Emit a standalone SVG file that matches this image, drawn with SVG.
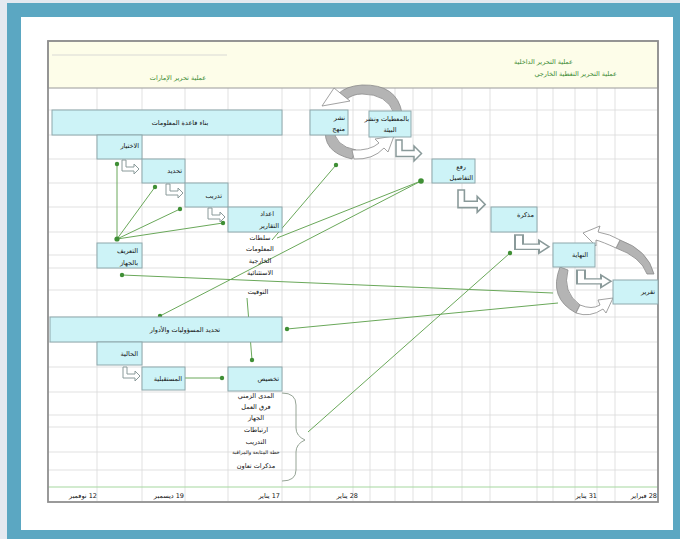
<svg xmlns="http://www.w3.org/2000/svg" xmlns:xlink="http://www.w3.org/1999/xlink" width="680" height="539" viewBox="0 0 680 539">
<style>
.box{fill:#cdf3f7;stroke:#8ea8ac;stroke-width:1}
.t{font-family:"DejaVu Sans",sans-serif;font-size:6.5px;fill:#111}
.h{font-family:"DejaVu Sans",sans-serif;font-size:6.5px;fill:#3a8a32}
.g{stroke:#6aa85a;stroke-width:1;fill:none}
.dot{fill:#3f8f35}
.bent{fill:#fff;stroke:#8a9a9a;stroke-width:1}
.grid{stroke:#d9d9d9;stroke-width:0.8}
.gray{fill:#b4b4b4;stroke:#8a8a8a;stroke-width:0.8}
.wa{fill:#fff;stroke:#8a8a8a;stroke-width:0.8}
</style>
<defs>
<path id="bend" d="M0,0 h4 v7 h8 v-3 l5,5 l-5,5 v-3 h-12 z"/>
</defs>
<rect x="0" y="0" width="680" height="539" fill="#e4e9f0"/>
<rect x="7" y="3" width="673" height="536" fill="#5ba7c2"/>
<rect x="21" y="17" width="652" height="513" fill="#fff"/>
<!-- grid -->
<g id="grid">
<rect x="48" y="41" width="610" height="461" fill="#fff"/>
<g class="grid">
<line x1="97" y1="88" x2="97" y2="501"/><line x1="142" y1="88" x2="142" y2="501"/>
<line x1="185" y1="88" x2="185" y2="501"/><line x1="228" y1="88" x2="228" y2="501"/>
<line x1="282" y1="88" x2="282" y2="501"/><line x1="310" y1="88" x2="310" y2="501"/>
<line x1="353" y1="88" x2="353" y2="501"/><line x1="370" y1="88" x2="370" y2="501"/>
<line x1="395" y1="88" x2="395" y2="501"/><line x1="413" y1="88" x2="413" y2="501"/>
<line x1="432" y1="88" x2="432" y2="501"/><line x1="462" y1="88" x2="462" y2="501"/>
<line x1="490" y1="88" x2="490" y2="501"/><line x1="537" y1="88" x2="537" y2="501"/>
<line x1="553" y1="88" x2="553" y2="501"/><line x1="575" y1="88" x2="575" y2="501"/>
<line x1="597" y1="88" x2="597" y2="501"/><line x1="615" y1="88" x2="615" y2="501"/>
<line x1="48" y1="110" x2="658" y2="110"/><line x1="48" y1="135" x2="658" y2="135"/>
<line x1="48" y1="159" x2="658" y2="159"/><line x1="48" y1="183" x2="658" y2="183"/>
<line x1="48" y1="207" x2="658" y2="207"/><line x1="48" y1="232" x2="658" y2="232"/>
<line x1="48" y1="255" x2="658" y2="255"/><line x1="48" y1="268" x2="658" y2="268"/>
<line x1="48" y1="290" x2="658" y2="290"/><line x1="48" y1="317" x2="658" y2="317"/>
<line x1="48" y1="342" x2="658" y2="342"/><line x1="48" y1="367" x2="658" y2="367"/>
<line x1="48" y1="392" x2="658" y2="392"/><line x1="48" y1="415" x2="658" y2="415"/>
<line x1="48" y1="427" x2="658" y2="427"/><line x1="48" y1="452" x2="658" y2="452"/>
<line x1="48" y1="470" x2="658" y2="470"/>
</g>
<line x1="48" y1="487" x2="658" y2="487" stroke="#a6d8a0" stroke-width="1.2"/>
<rect x="48" y="41" width="610" height="47" fill="#fdfde9" stroke="#9a9a9a" stroke-width="1"/>
<line x1="52" y1="55" x2="227" y2="55" stroke="#cfcfcf" stroke-width="0.8"/>
<rect x="48" y="41" width="610" height="461" fill="none" stroke="#8f8f8f" stroke-width="1.8"/>
</g>
<!-- header texts -->
<g id="header">
<text class="h" x="178" y="80" text-anchor="middle">عملية تحرير الإمارات</text>
<text class="h" x="573" y="64" text-anchor="end">عملية التحرير  الداخلية</text>
<text class="h" x="617" y="76" text-anchor="end">عملية التحرير  التغطية الخارجي</text>
</g>
<!-- timeline labels -->
<g id="timeline">
<text class="t" x="97" y="498" text-anchor="end">&#x200F;12 نوفمبر</text>
<text class="t" x="184" y="498" text-anchor="end">&#x200F;19 ديسمبر</text>
<text class="t" x="280" y="498" text-anchor="end">&#x200F;17 يناير</text>
<text class="t" x="358" y="498" text-anchor="end">&#x200F;28 يناير</text>
<text class="t" x="597" y="498" text-anchor="end">&#x200F;31 يناير</text>
<text class="t" x="657" y="498" text-anchor="end">&#x200F;28 فبراير</text>
</g>
<!-- cycle arrows -->
<g id="cycle-top">
<path class="gray" d="M402,113 Q397,84 362,85 Q346,86 338,94 L346,100 Q352,94 362,94 Q387,94 394,113 Z"/>
<polygon class="wa" points="334,88 350,101 322,106"/>
<path class="gray" d="M326,126 Q321,152 352,159 L356,150 Q334,146 334,128 Z"/>
<path class="wa" d="M352,150 Q370,151 379,143 L375,139 L394,136 L388,152 L384,148 Q373,160 354,159 Z"/>
</g>
<g id="cycle-right">
<path class="gray" d="M620,240 Q648,250 654,274 L647,274 Q641,257 616,248 Z"/>
<path class="wa" d="M620,240 L616,248 Q603,242 596,240 L596,246 L583,233 L600,226 L598,232 Q610,234 620,240 Z"/>
<path class="gray" d="M560,267 Q548,298 576,313 L580,305 Q562,292 568,270 Z"/>
<path class="wa" d="M576,313 L580,305 Q592,310 600,305 L598,300 L613,298 L606,313 L603,309 Q590,318 576,313 Z"/>
</g>
<!-- connectors -->
<g id="connectors">
<line class="g" x1="117" y1="239" x2="117" y2="164"/>
<line class="g" x1="117" y1="239" x2="155" y2="187"/>
<line class="g" x1="117" y1="239" x2="180" y2="209"/>
<line class="g" x1="117" y1="239" x2="223" y2="223"/>
<line class="g" x1="553" y1="293" x2="122" y2="275"/>
<line class="g" x1="558" y1="303" x2="287" y2="329"/>
<line class="g" x1="160" y1="316" x2="421" y2="181"/>
<line class="g" x1="277" y1="238" x2="421" y2="181"/>
<line class="g" x1="272" y1="240" x2="336" y2="165"/>
<line class="g" x1="247" y1="298" x2="252" y2="360"/>
<line class="g" x1="155" y1="378" x2="222" y2="378"/>
<line class="g" x1="308" y1="432" x2="510" y2="253"/>
<circle class="dot" cx="117" cy="164" r="2.2"/><circle class="dot" cx="117" cy="239" r="2.6"/>
<circle class="dot" cx="155" cy="187" r="2.2"/><circle class="dot" cx="180" cy="209" r="2.2"/>
<circle class="dot" cx="223" cy="223" r="2.2"/><circle class="dot" cx="122" cy="275" r="2.2"/>
<circle class="dot" cx="287" cy="329" r="2.2"/><circle class="dot" cx="160" cy="316" r="2.2"/>
<circle class="dot" cx="421" cy="181" r="2.8"/><circle class="dot" cx="336" cy="165" r="2.2"/>
<circle class="dot" cx="252" cy="360" r="2.2"/><circle class="dot" cx="222" cy="378" r="2.2"/>
<circle class="dot" cx="510" cy="253" r="2.2"/>
<path d="M282,393 Q296,393 296,405 L296,428 Q296,436 305,440 Q296,444 296,452 L296,470 Q296,481 282,481" fill="none" stroke="#8a9a8a" stroke-width="0.9"/>
</g>
<!-- bent arrows -->
<g id="bends">
<use href="#bend" class="bent" transform="translate(122,160)"/>
<use href="#bend" class="bent" transform="translate(166,184)"/>
<use href="#bend" class="bent" transform="translate(208,208)"/>
<use href="#bend" class="bent" transform="translate(123,367)"/>
<use href="#bend" class="bent" transform="translate(396,140) scale(1.5)"/>
<use href="#bend" class="bent" transform="translate(458,190) scale(1.6)"/>
<use href="#bend" class="bent" transform="translate(515,235) scale(2,1.3)"/>
<use href="#bend" class="bent" transform="translate(577,270) scale(2,1.25)"/>
</g>
<!-- nodes -->
<g id="n-info"><rect class="box" x="52" y="110" width="230" height="25"/><text class="t" x="180" y="125" text-anchor="middle">بناء قاعدة المعلومات</text></g>
<g id="n-select"><rect class="box" x="97" y="135" width="45" height="24"/><text class="t" x="139" y="148" text-anchor="end">الاختيار</text></g>
<g id="n-define"><rect class="box" x="142" y="159" width="43" height="24"/><text class="t" x="182" y="173" text-anchor="end">تحديد</text></g>
<g id="n-train"><rect class="box" x="185" y="183" width="43" height="24"/><text class="t" x="222" y="198" text-anchor="end">تدريب</text></g>
<g id="n-report"><rect class="box" x="228" y="207" width="54" height="25"/><text class="t" x="274" y="216" text-anchor="end">اعداد</text><text class="t" x="279" y="228" text-anchor="end">التقارير</text></g>
<g id="n-report-list">
<text class="t" x="260" y="240" text-anchor="middle">سلطات</text>
<text class="t" x="260" y="251" text-anchor="middle">المعلومات</text>
<text class="t" x="260" y="263" text-anchor="middle">الخارجية</text>
<text class="t" x="260" y="275" text-anchor="middle">الاستثنائية</text>
<text class="t" x="258" y="294" text-anchor="middle">التوقيت</text>
</g>
<g id="n-intro"><rect class="box" x="97" y="243" width="45" height="25"/><text class="t" x="138" y="253" text-anchor="end">التعريف</text><text class="t" x="138" y="265" text-anchor="end">بالجهاز</text></g>
<g id="n-publish"><rect class="box" x="310" y="110" width="38" height="25"/><text class="t" x="345" y="120" text-anchor="end">نشر</text><text class="t" x="345" y="131" text-anchor="end">منهج</text></g>
<g id="n-env"><rect class="box" x="369" y="111" width="42" height="26"/><text class="t" x="409" y="121" text-anchor="end">بالمعطيات ونشر</text><text class="t" x="390" y="132" text-anchor="middle">البيئة</text></g>
<g id="n-raise"><rect class="box" x="432" y="159" width="43" height="24"/><text class="t" x="466" y="169" text-anchor="end">رفع</text><text class="t" x="473" y="180" text-anchor="end">التفاصيل</text></g>
<g id="n-memo"><rect class="box" x="491" y="207" width="46" height="25"/><text class="t" x="534" y="217" text-anchor="end">مذكرة</text></g>
<g id="n-end"><rect class="box" x="553" y="243" width="42" height="24"/><text class="t" x="588" y="257" text-anchor="end">النهاية</text></g>
<g id="n-rep2"><rect class="box" x="613" y="280" width="45" height="24"/><text class="t" x="655" y="294" text-anchor="end">تقرير</text></g>
<g id="n-roles"><rect class="box" x="50" y="317" width="232" height="25"/><text class="t" x="185" y="332" text-anchor="middle">تحديد المسؤوليات والأدوار</text></g>
<g id="n-current"><rect class="box" x="97" y="342" width="45" height="23"/><text class="t" x="138" y="356" text-anchor="end">الحالية</text></g>
<g id="n-future"><rect class="box" x="142" y="367" width="43" height="23"/><text class="t" x="182" y="381" text-anchor="end">المستقبلية</text></g>
<g id="n-alloc"><rect class="box" x="228" y="367" width="54" height="24"/><text class="t" x="279" y="381" text-anchor="end">تخصيص</text></g>
<g id="n-alloc-list">
<text class="t" x="256" y="398" text-anchor="middle">المدى الزمني</text>
<text class="t" x="256" y="409" text-anchor="middle">فرق العمل</text>
<text class="t" x="256" y="420" text-anchor="middle">الجهاز</text>
<text class="t" x="256" y="432" text-anchor="middle">ارتباطات</text>
<text class="t" x="256" y="444" text-anchor="middle">التدريب</text>
<text class="t" x="256" y="454" text-anchor="middle" style="font-size:5px">خطة المتابعة والمراقبة</text>
<text class="t" x="256" y="468" text-anchor="middle">مذكرات تعاون</text>
</g>
</svg>
